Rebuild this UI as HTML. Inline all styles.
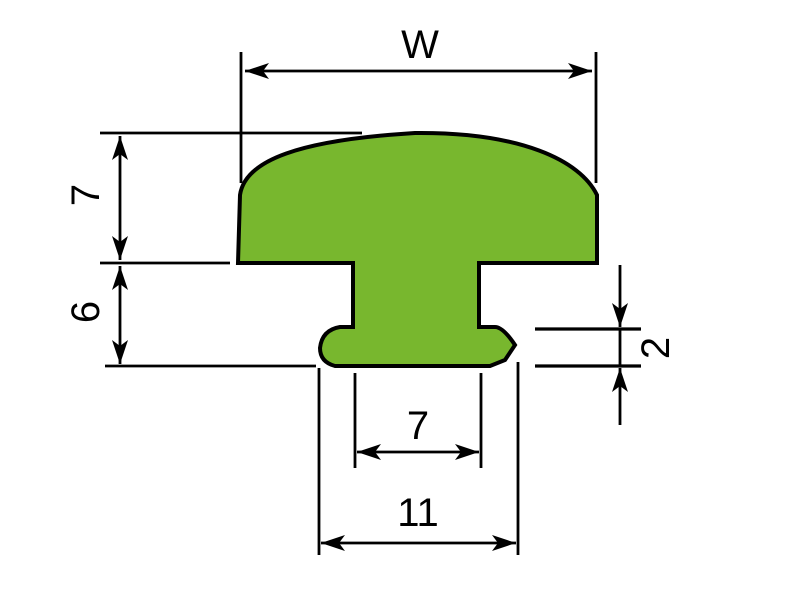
<!DOCTYPE html>
<html><head><style>html,body{margin:0;padding:0;background:#fff}svg{display:block}</style></head>
<body>
<svg width="800" height="600" viewBox="0 0 800 600" xmlns="http://www.w3.org/2000/svg">
<defs>
<marker id="a" viewBox="0 0 24 16" refX="24" refY="8" markerWidth="24" markerHeight="16" markerUnits="userSpaceOnUse" orient="auto-start-reverse">
<path d="M0,0 L24,8 L0,16 L6,8 Z" fill="#000"/>
</marker>
</defs>
<g stroke="#000" stroke-width="2.8" fill="none">
<path d="M240,195 C245,160 300,140 415,133 C520,132 580,160 597,195 L597,263 L479,263 L479,327 L495,327 Q503,327 515,345 L505,360 L490,366 L335,366 Q320,362 320,348 Q322,330 340,327 L353,327 L353,263 L238,263 Z" fill="#78b72e" stroke-width="4"/>
<line x1="241" y1="52" x2="241" y2="183"/>
<line x1="596" y1="52" x2="596" y2="183"/>
<line x1="245" y1="71" x2="592" y2="71" marker-start="url(#a)" marker-end="url(#a)"/>
<line x1="100" y1="133" x2="362" y2="133"/>
<line x1="100" y1="263" x2="230" y2="263"/>
<line x1="105" y1="366" x2="316" y2="366"/>
<line x1="120" y1="136" x2="120" y2="260" marker-start="url(#a)" marker-end="url(#a)"/>
<line x1="120" y1="266" x2="120" y2="364" marker-start="url(#a)" marker-end="url(#a)"/>
<line x1="535" y1="329" x2="641" y2="329" stroke-width="3.2"/>
<line x1="535" y1="366" x2="641" y2="366" stroke-width="3.2"/>
<line x1="620" y1="329" x2="620" y2="366"/>
<line x1="620" y1="265" x2="620" y2="327" marker-end="url(#a)"/>
<line x1="620" y1="425" x2="620" y2="368" marker-end="url(#a)"/>
<line x1="355" y1="373" x2="355" y2="468"/>
<line x1="481" y1="373" x2="481" y2="468"/>
<line x1="357" y1="452" x2="479" y2="452" marker-start="url(#a)" marker-end="url(#a)"/>
<line x1="319" y1="368" x2="319" y2="555"/>
<line x1="518" y1="362" x2="518" y2="555"/>
<line x1="321" y1="543" x2="516" y2="543" marker-start="url(#a)" marker-end="url(#a)"/>
</g>
<g font-family="Liberation Sans, sans-serif" font-size="40" fill="#000" text-anchor="middle">
<text x="420" y="58">W</text>
<text x="418" y="439">7</text>
<text x="418" y="526">11</text>
<text transform="translate(99,195) rotate(-90)">7</text>
<text transform="translate(99,312) rotate(-90)">6</text>
<text transform="translate(669,348) rotate(-90)">2</text>
</g>
</svg>
</body></html>
